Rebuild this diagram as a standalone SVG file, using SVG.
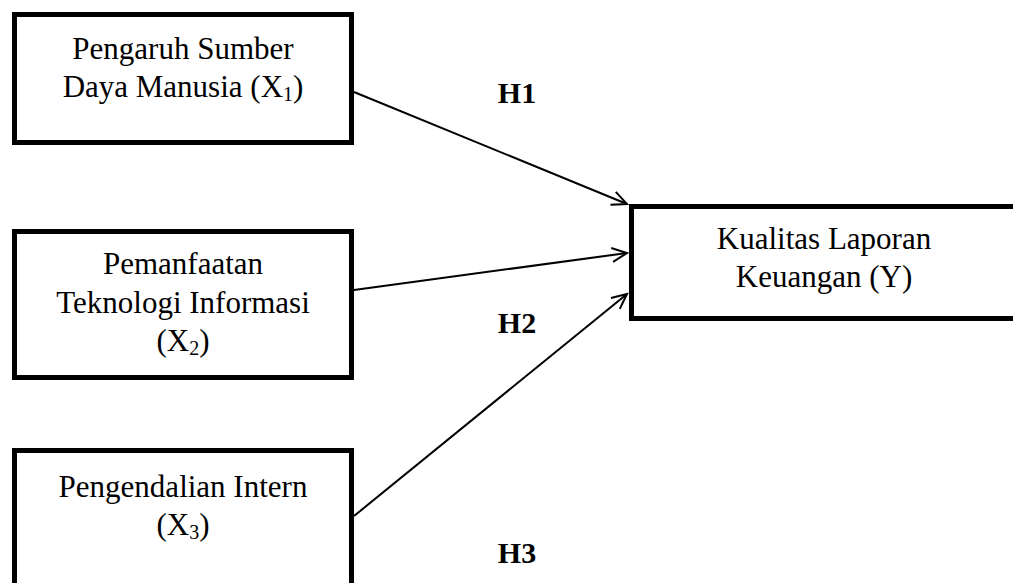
<svg xmlns="http://www.w3.org/2000/svg" width="1013" height="583" viewBox="0 0 1013 583">
<defs>
<marker id="ah" markerWidth="20" markerHeight="20" refX="16" refY="8" orient="auto" markerUnits="userSpaceOnUse">
<path d="M1,1 L16,8 L1,15" fill="none" stroke="#000" stroke-width="2"/>
</marker>
<style>
.box{fill:#fff;stroke:#000;stroke-width:5}
.t{font-family:"Liberation Serif","Times New Roman",serif;font-size:31px;fill:#000;text-anchor:middle}
.h{font-family:"Liberation Serif","Times New Roman",serif;font-size:30px;font-weight:bold;fill:#000;text-anchor:middle}
.sub{font-size:20px}
.c{stroke:#000;stroke-width:2;fill:none;marker-end:url(#ah)}
</style>
</defs>
<rect width="1013" height="583" fill="#fff"/>
<g id="connectors">
<line class="c" x1="354" y1="92" x2="627" y2="204"/>
<line class="c" x1="354" y1="290" x2="627" y2="253"/>
<line class="c" x1="354" y1="516" x2="627" y2="294"/>
</g>
<g id="x1">
<rect class="box" x="14.5" y="14.5" width="337" height="128"/>
<text class="t" x="183" y="59">Pengaruh Sumber</text>
<text class="t" x="183" y="97">Daya Manusia (X<tspan class="sub" dy="4">1</tspan><tspan dy="-4">)</tspan></text>
</g>
<g id="x2">
<rect class="box" x="14.5" y="231.5" width="337" height="146"/>
<text class="t" x="183" y="274">Pemanfaatan</text>
<text class="t" x="183" y="313">Teknologi Informasi</text>
<text class="t" x="183" y="351">(X<tspan class="sub" dy="4">2</tspan><tspan dy="-4">)</tspan></text>
</g>
<g id="x3">
<rect class="box" x="14.5" y="450.5" width="337" height="150"/>
<text class="t" x="183" y="497">Pengendalian Intern</text>
<text class="t" x="183" y="535">(X<tspan class="sub" dy="4">3</tspan><tspan dy="-4">)</tspan></text>
</g>
<g id="y">
<rect class="box" x="631.5" y="206.5" width="400" height="112"/>
<text class="t" x="824" y="249">Kualitas Laporan</text>
<text class="t" x="824" y="287">Keuangan (Y)</text>
</g>
<g id="labels">
<text class="h" x="517" y="103">H1</text>
<text class="h" x="517" y="333">H2</text>
<text class="h" x="517" y="563">H3</text>
</g>
</svg>
